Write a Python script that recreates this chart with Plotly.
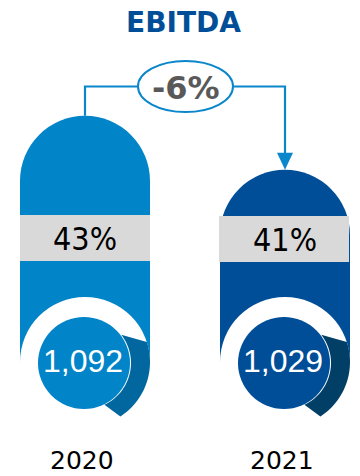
import numpy as np
import plotly.graph_objects as go

# ---- data ----
title = "EBITDA"
years = ["2020", "2021"]
ebitda = [1092, 1029]
margins = ["43%", "41%"]
change_label = "-6%"

# ---- styles ----
bar_colors = ["#0284C8", "#004E97"]
shadow_colors = ["#02679F", "#023F66"]
line_color = "#0A86CB"

W, H = 360, 476
centers_x = [85, 285]
R_OUT = 65
R_IN = 46
RING_CY = 362

# linear scale: value -> vertical pixel position of pill top
V_BASE, Y_BASE, K = 729.0, 427.0, 54.0 / 63.0
def y_of(v):
    return Y_BASE - (v - V_BASE) * K

shapes = []
annotations = []

def arc_pts(cx, cy, r, a0, a1, n=30):
    a = np.radians(np.linspace(a0, a1, n))
    return list(zip(cx + r * np.cos(a), cy + r * np.sin(a)))

for i, (yr, v, m) in enumerate(zip(years, ebitda, margins)):
    cx = centers_x[i]
    top = y_of(v)
    col = bar_colors[i]
    # pill top cap
    shapes.append(dict(type="circle", xref="x", yref="y", x0=cx - R_OUT, x1=cx + R_OUT,
                       y0=top, y1=top + 2 * R_OUT, fillcolor=col, line_width=0, layer="below"))
    # pill body
    shapes.append(dict(type="rect", xref="x", yref="y", x0=cx - R_OUT, x1=cx + R_OUT,
                       y0=top + R_OUT, y1=RING_CY, fillcolor=col, line_width=0, layer="below"))
    # white ring
    shapes.append(dict(type="circle", xref="x", yref="y", x0=cx - R_OUT, x1=cx + R_OUT,
                       y0=RING_CY - R_OUT, y1=RING_CY + R_OUT, fillcolor="white", line_width=0, layer="below"))
    # shadow wedge
    pts = arc_pts(cx, RING_CY, R_OUT, -18, 57) + arc_pts(cx, RING_CY + 1, R_IN, 65, -38)
    path = "M " + " L ".join(f"{x:.2f},{y:.2f}" for x, y in pts) + " Z"
    shapes.append(dict(type="path", xref="x", yref="y", path=path,
                       fillcolor=shadow_colors[i], line_width=0, layer="below"))
    # inner disc
    shapes.append(dict(type="circle", xref="x", yref="y", x0=cx - 1 - R_IN, x1=cx - 1 + R_IN,
                       y0=RING_CY + 1 - R_IN, y1=RING_CY + 1 + R_IN, fillcolor=col, line_width=0, layer="below"))
    # grey label band
    by = 215 + i
    shapes.append(dict(type="rect", xref="x", yref="y", x0=cx - R_OUT - (1 if i else 0), x1=cx + R_OUT - (1 if i else 0),
                       y0=by, y1=by + 46, fillcolor="#D9D9D9", line_width=0, layer="below"))
    annotations.append(dict(x=cx, y=by + 24, xref="x", yref="y", text=m, showarrow=False,
                            font=dict(family="DejaVu Sans Condensed, DejaVu Sans", size=32, color="#000000")))
    annotations.append(dict(x=cx - 2, y=361, xref="x", yref="y", text=f"{v:,}", showarrow=False,
                            font=dict(family="Liberation Sans, Arial", size=32, color="white")))
    annotations.append(dict(x=cx - 3, y=460, xref="x", yref="y", text=yr, showarrow=False,
                            font=dict(family="DejaVu Sans", size=25, color="#000000")))

# connector with arrow
top1, top2 = y_of(ebitda[0]), y_of(ebitda[1])
ell_x0, ell_x1, ell_y0, ell_y1 = 138, 233, 61, 112
mid_y = (ell_y0 + ell_y1) / 2
shapes.append(dict(type="path", xref="x", yref="y",
                   path=f"M {centers_x[0]},{top1} V {mid_y} H {ell_x0} M {ell_x1},{mid_y} H {centers_x[1]} V {top2 - 16}",
                   line=dict(color=line_color, width=2.2)))
shapes.append(dict(type="path", xref="x", yref="y",
                   path=f"M {centers_x[1]-8},{top2-17} L {centers_x[1]+8},{top2-17} L {centers_x[1]},{top2} Z",
                   fillcolor=line_color, line_width=0))
shapes.append(dict(type="circle", xref="x", yref="y", x0=ell_x0, x1=ell_x1, y0=ell_y0, y1=ell_y1,
                   fillcolor="white", line=dict(color=line_color, width=2)))
annotations.append(dict(x=(ell_x0 + ell_x1) / 2, y=mid_y + 1, xref="x", yref="y", text=f"<b>{change_label}</b>",
                        showarrow=False, font=dict(family="DejaVu Sans", size=32, color="#595959")))

annotations.append(dict(x=183, y=22, xref="x", yref="y", text=f"<b>{title}</b>", showarrow=False,
                        font=dict(family="DejaVu Sans", size=28, color="#004E97")))

fig = go.Figure()
fig.add_trace(go.Scatter(x=[], y=[]))
fig.update_layout(
    width=W, height=H, margin=dict(l=0, r=0, t=0, b=0),
    paper_bgcolor="white", plot_bgcolor="white",
    xaxis=dict(range=[0, W], visible=False, fixedrange=True),
    yaxis=dict(range=[H, 0], visible=False, fixedrange=True),
    shapes=shapes, annotations=annotations, showlegend=False,
)
fig.write_html("out.html")
